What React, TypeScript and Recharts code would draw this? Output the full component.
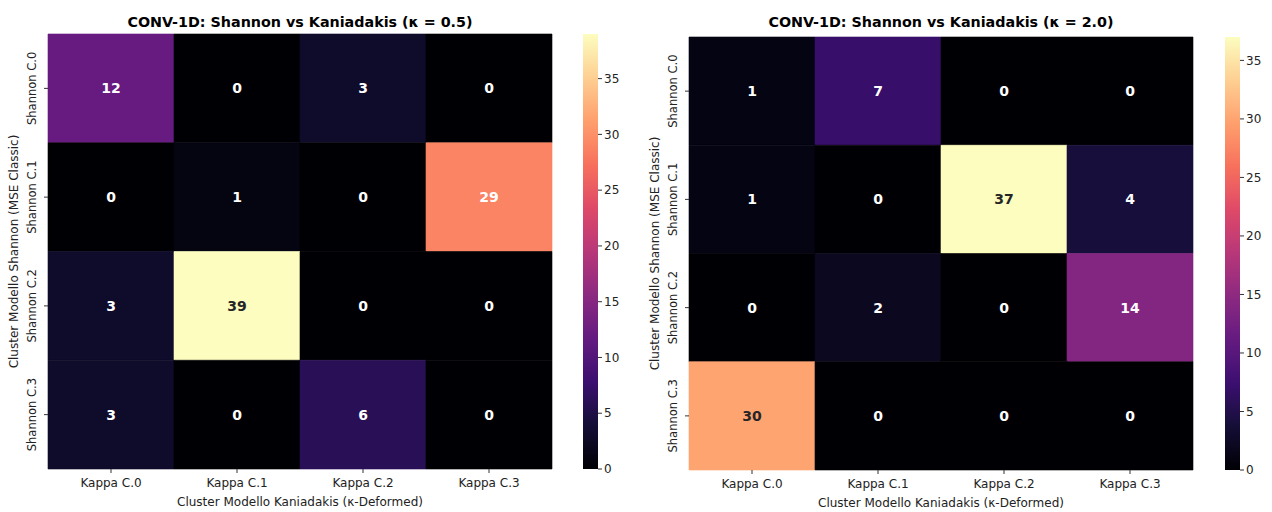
import { BarChart, Bar, XAxis, YAxis, Cell, LabelList } from 'recharts';

const KAPPA_LABELS = ['Kappa C.0', 'Kappa C.1', 'Kappa C.2', 'Kappa C.3'];
const SHANNON_LABELS = ['Shannon C.0', 'Shannon C.1', 'Shannon C.2', 'Shannon C.3'];

// rows = Shannon clusters, columns = Kappa clusters
const MATRIX_K05 = [
  [12, 0, 3, 0],
  [0, 1, 0, 29],
  [3, 39, 0, 0],
  [3, 0, 6, 0],
];
const MATRIX_K20 = [
  [1, 7, 0, 0],
  [1, 0, 37, 4],
  [0, 2, 0, 14],
  [30, 0, 0, 0],
];
const COLORBAR_TICKS = [0, 5, 10, 15, 20, 25, 30, 35];

const FONT = '"DejaVu Sans", Verdana, sans-serif';

// magma colormap stops
const MAGMA = [
  '#000004', '#140e36', '#3b0f70', '#641a80', '#8c2981', '#b73779',
  '#de4968', '#f7705c', '#fe9f6d', '#fecf92', '#fcfdbf',
];

const hexToRgb = (h: string) => [1, 3, 5].map((i) => parseInt(h.slice(i, i + 2), 16));

function magmaRgb(t: number) {
  const v = Math.max(0, Math.min(1, t)) * (MAGMA.length - 1);
  const i = Math.min(Math.floor(v), MAGMA.length - 2);
  const f = v - i;
  const a = hexToRgb(MAGMA[i]);
  const b = hexToRgb(MAGMA[i + 1]);
  return a.map((c, k) => Math.round(c + (b[k] - c) * f));
}

const magma = (t: number) => {
  const [r, g, b] = magmaRgb(t);
  return `rgb(${r},${g},${b})`;
};

// seaborn-like annotation color choice
function textColor(t: number) {
  const lin = magmaRgb(t).map((c) => {
    const s = c / 255;
    return s <= 0.03928 ? s / 12.92 : Math.pow((s + 0.055) / 1.055, 2.4);
  });
  const lum = 0.2126 * lin[0] + 0.7152 * lin[1] + 0.0722 * lin[2];
  return lum > 0.408 ? '#262626' : '#ffffff';
}

const PLOT_LEFT = 48;
const CHART_W = 560;

function Heatmap({ matrix, title, top, bottom }: { matrix: number[][]; title: string; top: number; bottom: number }) {
  const max = Math.max(...matrix.flat());
  const plotBottom = 512 - bottom;
  const midY = (top + plotBottom) / 2;
  const midX = (PLOT_LEFT + CHART_W - 8) / 2;
  const table = KAPPA_LABELS.map((k, c) => {
    const row: Record<string, any> = { kappa: k };
    matrix.forEach((r, i) => { row[`v${i}`] = r[c]; });
    return row;
  });

  return (
    <div style={{ position: 'relative', width: CHART_W, height: 512 }}>
      <div style={{
        position: 'absolute', left: 0, width: 2 * midX, top: 14, textAlign: 'center',
        fontFamily: FONT, fontWeight: 'bold', fontSize: 14.3, color: '#000',
      }}>{title}</div>
      <BarChart width={CHART_W} height={512} data={table} barCategoryGap={0} barGap={0}
        margin={{ top, right: 8, bottom: 0, left: 0 }}>
        <XAxis dataKey="kappa" axisLine={false} tickLine={false} height={bottom}
          tick={(p: any) => (
            <g>
              <line x1={p.x} x2={p.x} y1={plotBottom} y2={plotBottom + 4} stroke="#333" />
              <text x={p.x} y={plotBottom + 14} textAnchor="middle" dominantBaseline="central" fontSize={12}
                fontFamily={FONT} fill="#222">
                {p.payload.value}
              </text>
            </g>
          )}
          label={{
            content: () => (
              <text x={midX} y={plotBottom + 33} textAnchor="middle" dominantBaseline="central" fontSize={12}
                fontFamily={FONT} fill="#222">
                Cluster Modello Kaniadakis (κ-Deformed)
              </text>
            ),
          }}
        />
        <YAxis type="number" domain={[0, 4]} reversed ticks={[0.5, 1.5, 2.5, 3.5]} width={PLOT_LEFT}
          axisLine={false} tickLine={false} interval={0}
          tick={(p: any) => (
            <g>
              <line x1={PLOT_LEFT - 4} x2={PLOT_LEFT} y1={p.y} y2={p.y} stroke="#333" />
              <text x={32} y={p.y} textAnchor="middle" dominantBaseline="central" fontSize={11.5} fontFamily={FONT}
                fill="#222" transform={`rotate(-90, 32, ${p.y})`}>
                {SHANNON_LABELS[Math.floor(p.payload.value)]}
              </text>
            </g>
          )}
          label={{
            content: () => (
              <text x={14} y={midY} textAnchor="middle" dominantBaseline="central" fontSize={12} fontFamily={FONT}
                fill="#222" transform={`rotate(-90, 14, ${midY})`}>
                Cluster Modello Shannon (MSE Classic)
              </text>
            ),
          }}
        />
        {matrix.map((row, r) => (
          <Bar key={r} dataKey={() => 1} stackId="h" isAnimationActive={false}>
            {row.map((v, c) => (
              <Cell key={c} fill={magma(v / max)} stroke={magma(v / max)} strokeWidth={0.6} />
            ))}
            <LabelList dataKey={`v${r}`} content={(p: any) => {
              const v = Number(p.value);
              return (
                <text x={Number(p.x) + Number(p.width) / 2} y={Number(p.y) + Number(p.height) / 2}
                  textAnchor="middle" dominantBaseline="central" fontSize={14} fontWeight="bold"
                  fontFamily={FONT} fill={textColor(v / max)}>
                  {v}
                </text>
              );
            }} />
          </Bar>
        ))}
      </BarChart>
    </div>
  );
}

function Colorbar({ max, top, bottom, id }: { max: number; top: number; bottom: number; id: string }) {
  const stops = Array.from({ length: 21 }, (_, i) => i / 20);
  return (
    <BarChart width={60} height={512} data={[{ name: 'cb', v: max }]} barCategoryGap={0}
      margin={{ top, right: 0, bottom, left: 0 }}>
      <defs>
        <linearGradient id={id} x1="0" y1="1" x2="0" y2="0">
          {stops.map((s) => <stop key={s} offset={s} stopColor={magma(s)} />)}
        </linearGradient>
      </defs>
      <XAxis dataKey="name" hide />
      <YAxis orientation="right" type="number" domain={[0, max]} ticks={COLORBAR_TICKS} width={45}
        axisLine={false} tickSize={4} tickLine={{ stroke: '#333' }}
        tick={{ fontSize: 12, fontFamily: FONT, fill: '#222' }} />
      <Bar dataKey="v" fill={`url(#${id})`} isAnimationActive={false} />
    </BarChart>
  );
}

export default function App() {
  const maxL = Math.max(...MATRIX_K05.flat());
  const maxR = Math.max(...MATRIX_K20.flat());
  return (
    <div style={{ position: 'absolute', left: 0, top: 0, width: 1272, height: 512, background: '#fff', overflow: 'hidden' }}>
      <div style={{ position: 'absolute', left: 0, top: 0 }}>
        <Heatmap matrix={MATRIX_K05} title="CONV-1D: Shannon vs Kaniadakis (κ = 0.5)" top={34} bottom={43} />
      </div>
      <div style={{ position: 'absolute', left: 583, top: 0 }}>
        <Colorbar max={maxL} top={34} bottom={43} id="magmaL" />
      </div>
      <div style={{ position: 'absolute', left: 641, top: 0 }}>
        <Heatmap matrix={MATRIX_K20} title="CONV-1D: Shannon vs Kaniadakis (κ = 2.0)" top={37} bottom={42} />
      </div>
      <div style={{ position: 'absolute', left: 1225, top: 0 }}>
        <Colorbar max={maxR} top={37} bottom={42} id="magmaR" />
      </div>
    </div>
  );
}
